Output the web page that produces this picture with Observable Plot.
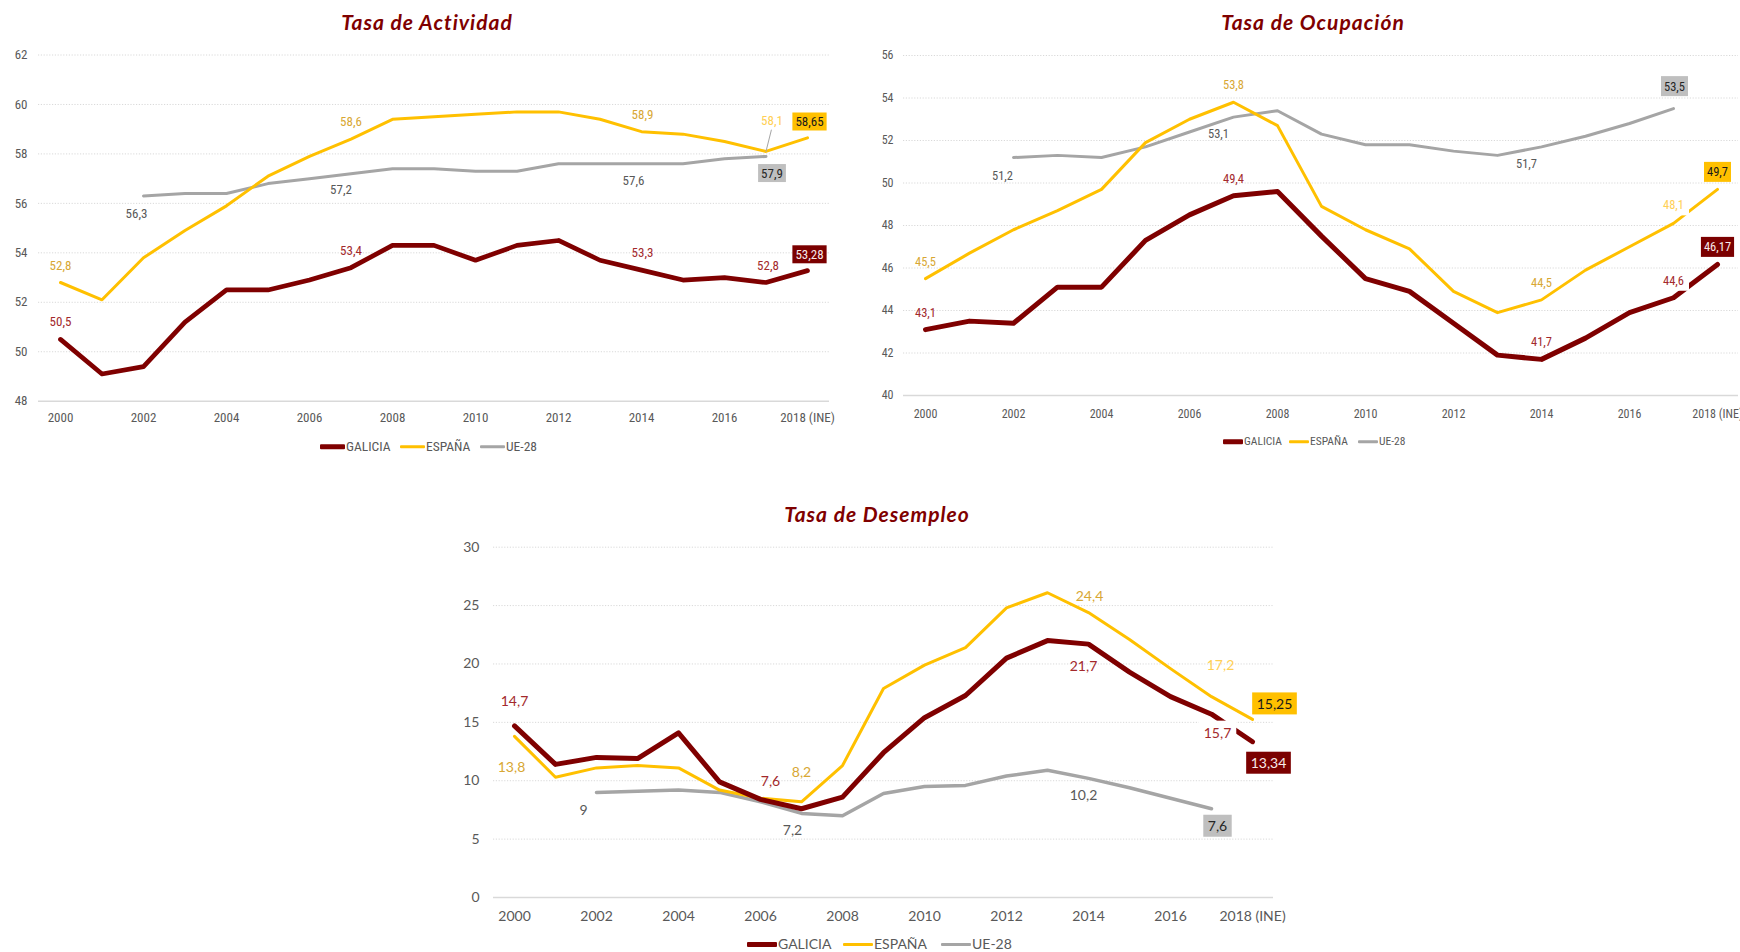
<!DOCTYPE html>
<html><head><meta charset="utf-8">
<script src="https://cdn.jsdelivr.net/npm/d3@7"></script>
<script src="https://cdn.jsdelivr.net/npm/@observablehq/plot@0.6"></script>
<style>
html,body{margin:0;padding:0;background:#fff;}
body{width:1740px;height:952px;overflow:hidden;position:relative;}
.panel{position:absolute;}
.title{position:absolute;font-family:Lato,"Open Sans",sans-serif;font-weight:bold;font-style:italic;color:#7F0000;white-space:nowrap;transform:translate(-50%,-50%);line-height:1;letter-spacing:1px;}
.leg{position:absolute;display:flex;align-items:center;white-space:nowrap;color:#595959;transform:translateY(-50%);line-height:1;}
.leg .sw{display:inline-block;margin-right:1px;}
</style></head><body>
<script>
// ---------- DATA ----------
const years = [2000,2001,2002,2003,2004,2005,2006,2007,2008,2009,2010,2011,2012,2013,2014,2015,2016,2017,2018];
const tickYears = [2000,2002,2004,2006,2008,2010,2012,2014,2016,2018];
const seriesNames = ["GALICIA","ESPAÑA","UE-28"];

// Tasa de Actividad
const actGalicia = [50.5,49.1,49.4,51.2,52.5,52.5,52.9,53.4,54.3,54.3,53.7,54.3,54.5,53.7,53.3,52.9,53.0,52.8,53.28];
const actEspana  = [52.8,52.1,53.8,54.9,55.9,57.1,57.9,58.6,59.4,59.5,59.6,59.7,59.7,59.4,58.9,58.8,58.5,58.1,58.65];
const actUE      = [null,null,56.3,56.4,56.4,56.8,57.0,57.2,57.4,57.4,57.3,57.3,57.6,57.6,57.6,57.6,57.8,57.9,null];
const actTicks   = [48,50,52,54,56,58,60,62];

// Tasa de Ocupación
const ocuGalicia = [43.1,43.5,43.4,45.1,45.1,47.3,48.5,49.4,49.6,47.5,45.5,44.9,43.4,41.9,41.7,42.7,43.9,44.6,46.17];
const ocuEspana  = [45.5,46.7,47.8,48.7,49.7,51.9,53.0,53.8,52.7,48.9,47.8,46.9,44.9,43.9,44.5,45.9,47.0,48.1,49.7];
const ocuUE      = [null,null,51.2,51.3,51.2,51.7,52.4,53.1,53.4,52.3,51.8,51.8,51.5,51.3,51.7,52.2,52.8,53.5,null];
const ocuTicks   = [40,42,44,46,48,50,52,54,56];

// Tasa de Desempleo
const desGalicia = [14.7,11.4,12.0,11.9,14.1,9.9,8.4,7.6,8.6,12.4,15.4,17.3,20.5,22.0,21.7,19.3,17.2,15.7,13.34];
const desEspana  = [13.8,10.3,11.1,11.3,11.1,9.2,8.5,8.2,11.3,17.9,19.9,21.4,24.8,26.1,24.4,22.1,19.6,17.2,15.25];
const desUE      = [null,null,9.0,9.1,9.2,9.0,8.2,7.2,7.0,8.9,9.5,9.6,10.4,10.9,10.2,9.4,8.5,7.6,null];
const desTicks   = [0,5,10,15,20,25,30];

// labelled years per series: [series key, year]
const actLabelYears = [["g",2000],["g",2007],["g",2014],["g",2017],["g",2018],["e",2000],["e",2007],["e",2014],["e",2017],["e",2018],["u",2002],["u",2007],["u",2014],["u",2017]];
const ocuLabelYears = actLabelYears;
const desLabelYears = actLabelYears;

// ---------- LAYOUT / STYLE ----------
const COL = {g:"#7F0000", e:"#FFC000", u:"#A5A5A5"};
const TXT = {g:"#A3292C", e:"#D8A733", u:"#595959", pale:"#FFCF55"};
const BOX = {g:{fill:"#7B0000", text:"#F8EAEA"}, e:{fill:"#FFC000", text:"#1A1A1A"}, u:{fill:"#BFBFBF", text:"#262626"}};
const NARROW = '"Liberation Sans Narrow","Arial Narrow","Roboto Condensed",sans-serif';
const LATO = 'Lato,"Open Sans",sans-serif';

// label offsets (dx, dy) and kind, same order as label-year lists
const actLab = [[0,-18,"n"],[0,-17,"n"],[1,-17,"n"],[2,-17,"n"],[2,-16,"box"],
                [0,-17,"n"],[0,-17,"n"],[1,-17,"n"],[6,-31,"pale"],[2,-16,"box"],
                [-7,18,"n"],[-10,16,"n"],[-8,17,"n"],[6,17,"box"]];
const ocuLab = [[0,-17,"n"],[0,-17,"n"],[0,-17,"n"],[0,-17,"white"],[0,-17,"box"],
                [0,-17,"n"],[0,-17,"n"],[0,-17,"n"],[0,-18,"palewhite"],[0,-17,"box"],
                [-11,18,"n"],[-15,17,"n"],[-15,17,"n"],[1,-22,"box"]];
const desLab = [[0,-24,"n"],[-31,-27,"n"],[-5,22,"n"],[6,19,"white"],[16,22,"box"],
                [-3,31,"n"],[0,-29,"n"],[1,-16,"n"],[9,-31,"pale"],[22,-15,"box"],
                [-13,18,"n"],[-9,17,"n"],[-5,17,"n"],[6,18,"box"]];

const fmt = v => String(v).replace(".", ",");

let boxId = 0;
const boxes = [];

function makeChart(c) {
  const rows = s => years.map((y,i)=>({year:y, value:s[i]})).filter(d=>d.value!=null);
  const S = {g:c.g, e:c.e, u:c.u};
  const marks = [
    Plot.ruleY(c.ticks.slice(1), {stroke:"#D9D9D9", strokeWidth:1, strokeDasharray:"1.2,1.6"}),
    Plot.ruleY(c.ticks.slice(0,1), {stroke:"#D9D9D9", strokeWidth:1.5}),
    Plot.axisY({ticks:c.ticks, tickSize:0, tickPadding:c.yPad, fontSize:c.tickFont, label:null, tickFormat:d=>String(d)}),
    Plot.axisX({ticks:tickYears, tickSize:0, tickPadding:c.xPad, fontSize:c.tickFont, label:null, tickFormat:d=>d===2018?"2018 (INE)":String(d)}),
    Plot.line(rows(c.u), {x:"year", y:"value", stroke:COL.u, strokeWidth:c.w[2], strokeLinejoin:"round"}),
    Plot.line(rows(c.e), {x:"year", y:"value", stroke:COL.e, strokeWidth:c.w[1], strokeLinejoin:"round"}),
    Plot.line(rows(c.g), {x:"year", y:"value", stroke:COL.g, strokeWidth:c.w[0], strokeLinejoin:"round"})
  ];
  c.labelYears.forEach(([k, yr], i) => {
    const [dx, dy, kind] = c.lab[i];
    const d = {year:yr, value:S[k][years.indexOf(yr)]};
    let fill = TXT[k];
    if (kind.startsWith("pale")) fill = TXT.pale;
    const id = "lbl-" + (boxId++);
    if (kind === "box") { fill = BOX[k].text; boxes.push({id, fill:BOX[k].fill, px:c.boxPx, py:c.boxPy}); }
    if (kind.endsWith("white")) boxes.push({id, fill:"#FFFFFF", px:5, py:3});
    if (k==="e" && kind==="pale" && c.leader) {
      marks.push(Plot.vector([d], {x:"year", y:"value", length:22, rotate:14, anchor:"start", stroke:"#A6A6A6", strokeWidth:1,
        shape:{draw(ctx,l){ctx.moveTo(0,0); ctx.lineTo(0,-l);}}}));
    }
    marks.push(Plot.text([d], {x:"year", y:"value", text:dd=>fmt(dd.value), dx, dy, fill, fontSize:c.labFont, ariaLabel:()=>id}));
  });
  const svg = Plot.plot({
    width:c.width, height:c.height,
    marginLeft:c.mL, marginRight:c.mR, marginTop:c.mT, marginBottom:c.mB,
    x:{type:"linear", domain:[2000,2018], range:c.xRange, label:null},
    y:{domain:c.yDomain, range:c.yRange, label:null},
    style:{fontFamily:c.font, color:"#595959", background:"transparent", overflow:"visible"},
    marks
  });
  const wrap = document.createElement("div");
  wrap.className = "panel";
  wrap.style.left = c.left + "px"; wrap.style.top = c.top + "px";
  wrap.appendChild(svg);
  document.body.appendChild(wrap);
  return svg;
}

function addTitle(text, x, y, size) {
  const t = document.createElement("div");
  t.className = "title"; t.textContent = text;
  t.style.left = x + "px"; t.style.top = y + "px"; t.style.fontSize = size + "px";
  document.body.appendChild(t);
}
function addLegend(xs, y, swW, font, size) {
  const keys = ["g","e","u"];
  const thick = [5,3,3];
  keys.forEach((k,i)=>{
    const d = document.createElement("div");
    d.className = "leg";
    d.style.left = xs[i] + "px"; d.style.top = y + "px";
    d.style.fontFamily = font; d.style.fontSize = size + "px";
    const sw = document.createElement("span");
    sw.className = "sw"; sw.style.width = swW + "px"; sw.style.height = thick[i] + "px";
    sw.style.background = COL[k]; sw.style.borderRadius = "1px";
    const tx = document.createElement("span"); tx.textContent = seriesNames[i];
    d.appendChild(sw); d.appendChild(tx);
    document.body.appendChild(d);
  });
}

const svg1 = makeChart({left:0, top:0, width:850, height:460, mL:38, mR:21, mT:54.5, mB:59.3,
  xRange:[60,807], yDomain:[48,62], yRange:[400.7,54.5], ticks:actTicks, yPad:11, xPad:12,
  tickFont:13, labFont:13, font:NARROW, w:[4.7,3,3], g:actGalicia, e:actEspana, u:actUE,
  labelYears:actLabelYears, lab:actLab, boxPx:3, boxPy:1.5, leader:true});
const svg2 = makeChart({left:860, top:0, width:880, height:460, mL:43, mR:2, mT:55, mB:65,
  xRange:[65,857], yDomain:[40,56], yRange:[395,55], ticks:ocuTicks, yPad:10, xPad:14,
  tickFont:12, labFont:12.5, font:NARROW, w:[5,3,3], g:ocuGalicia, e:ocuEspana, u:ocuUE,
  labelYears:ocuLabelYears, lab:ocuLab, boxPx:3, boxPy:2.5, leader:false});
const svg3 = makeChart({left:440, top:480, width:880, height:472, mL:53, mR:47, mT:66.7, mB:55,
  xRange:[74,812], yDomain:[0,30], yRange:[417,66.7], ticks:desTicks, yPad:14, xPad:14,
  tickFont:14, labFont:14, font:LATO, w:[5,3,3.5], g:desGalicia, e:desEspana, u:desUE,
  labelYears:desLabelYears, lab:desLab, boxPx:4.5, boxPy:2.5, leader:false});

// boxed labels: rectangle behind text, sized from the rendered text
const NS = "http://www.w3.org/2000/svg";
[svg1, svg2, svg3].forEach(svg => {
  boxes.forEach(b => {
    const t = svg.querySelector(`text[aria-label="${b.id}"]`);
    if (!t) return;
    const bb = t.getBBox();
    const r = document.createElementNS(NS, "rect");
    r.setAttribute("x", bb.x - b.px); r.setAttribute("y", bb.y - b.py);
    r.setAttribute("width", bb.width + 2*b.px); r.setAttribute("height", bb.height + 2*b.py);
    r.setAttribute("fill", b.fill);
    const tr = t.getAttribute("transform");
    if (tr) r.setAttribute("transform", tr);
    t.parentNode.insertBefore(r, t);
  });
});

addTitle("Tasa de Actividad", 427, 21, 21);
addTitle("Tasa de Ocupación", 1313, 21, 21);
addTitle("Tasa de Desempleo", 877, 513, 21);
addLegend([320,400,480], 447, 25, NARROW, 13.5);
addLegend([1223,1289,1358], 442, 20, NARROW, 11.5);
addLegend([747,843,941], 944, 30, LATO, 14);
</script>
</body></html>
